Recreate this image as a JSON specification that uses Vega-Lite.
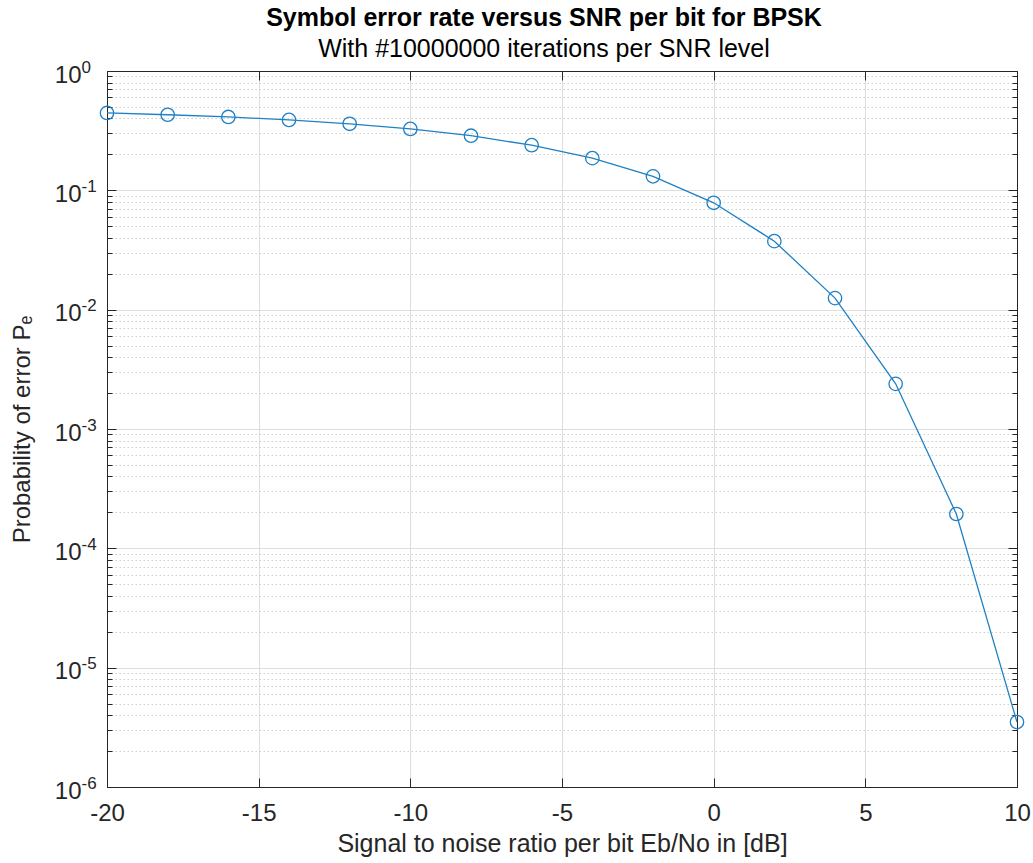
{
  "$schema": "https://vega.github.io/schema/vega-lite/v6.json",
  "autosize": "none",
  "width": 910,
  "height": 716,
  "padding": {"left": 107, "top": 71, "right": 16, "bottom": 76},
  "background": "white",
  "config": {
    "view": {"stroke": null},
    "font": "Liberation Sans",
    "axis": {"labelFont": "Liberation Sans", "titleFont": "Liberation Sans", "labelColor": "#262626", "titleColor": "#262626", "domainColor": "#262626", "tickColor": "#262626", "titleFontWeight": "normal"}
  },
  "title": {
    "text": "Symbol error rate versus SNR per bit for BPSK",
    "subtitle": "With #10000000 iterations per SNR level",
    "font": "Liberation Sans",
    "subtitleFont": "Liberation Sans",
    "fontSize": 25,
    "subtitleFontSize": 25,
    "fontWeight": "bold",
    "color": "#000000",
    "subtitleColor": "#000000",
    "anchor": "middle",
    "offset": -4,
    "subtitlePadding": 6,
    "dx": -18
  },
  "data": {
    "values": [
      {"snr": -20, "pe": 0.445},
      {"snr": -18, "pe": 0.430},
      {"snr": -16, "pe": 0.412},
      {"snr": -14, "pe": 0.389},
      {"snr": -12, "pe": 0.361},
      {"snr": -10, "pe": 0.327},
      {"snr": -8, "pe": 0.287},
      {"snr": -6, "pe": 0.239},
      {"snr": -4, "pe": 0.186},
      {"snr": -2, "pe": 0.131},
      {"snr": 0, "pe": 0.0786},
      {"snr": 2, "pe": 0.0375},
      {"snr": 4, "pe": 0.0125},
      {"snr": 6, "pe": 0.00239},
      {"snr": 8, "pe": 0.000194},
      {"snr": 10, "pe": 0.0000035}
    ]
  },
  "resolve": {"axis": {"x": "independent", "y": "independent"}},
  "layer": [
    {
      "mark": {"type": "line", "color": "#1f80c4", "strokeWidth": 1.3},
      "encoding": {
        "x": {
          "field": "snr", "type": "quantitative",
          "scale": {"domain": [-20, 10], "nice": false, "zero": false},
          "axis": {
            "orient": "bottom",
            "values": [-20, -15, -10, -5, 0, 5, 10],
            "labelExpr": "'' + datum.value",
            "labelFontSize": 24,
            "labelPadding": 23,
            "labelBaseline": "top",
            "labelFlush": false,
            "tickSize": -9,
            "grid": true,
            "gridColor": "#dedede",
            "gridWidth": 1,
            "title": "Signal to noise ratio per bit Eb/No in [dB]",
            "titleFontSize": 25,
            "titlePadding": 6
          }
        },
        "y": {
          "field": "pe", "type": "quantitative",
          "scale": {"type": "log", "domain": [0.000001, 1], "nice": false},
          "axis": {
            "orient": "left",
            "values": [0.000001, 0.000002, 0.000003, 0.000004, 0.000005, 0.000006, 0.000007, 0.000008, 0.000009,
                       0.00001, 0.00002, 0.00003, 0.00004, 0.00005, 0.00006, 0.00007, 0.00008, 0.00009,
                       0.0001, 0.0002, 0.0003, 0.0004, 0.0005, 0.0006, 0.0007, 0.0008, 0.0009,
                       0.001, 0.002, 0.003, 0.004, 0.005, 0.006, 0.007, 0.008, 0.009,
                       0.01, 0.02, 0.03, 0.04, 0.05, 0.06, 0.07, 0.08, 0.09,
                       0.1, 0.2, 0.3, 0.4, 0.5, 0.6, 0.7, 0.8, 0.9, 1],
            "labelExpr": "abs(log(datum.value)/LN10 - round(log(datum.value)/LN10)) < 0.001 ? '10' : ''",
            "labelFontSize": 24,
            "labelPadding": 35,
            "labelOffset": 4,
            "labelBaseline": "middle",
            "tickSize": {"condition": {"test": "abs(log(datum.value)/LN10 - round(log(datum.value)/LN10)) < 0.001", "value": -9}, "value": -5},
            "grid": true,
            "gridColor": {"condition": {"test": "abs(log(datum.value)/LN10 - round(log(datum.value)/LN10)) < 0.001", "value": "#dedede"}, "value": "#cfcfcf"},
            "gridDash": {"condition": {"test": "abs(log(datum.value)/LN10 - round(log(datum.value)/LN10)) < 0.001", "value": []}, "value": [1.5, 2.5]},
            "labelOverlap": false,
            "title": "Probability of error Pₑ",
            "titleFontSize": 24,
            "titlePadding": 20
          }
        }
      }
    },
    {
      "mark": {"type": "point", "shape": "circle", "filled": false, "color": "#1f80c4", "size": 180, "strokeWidth": 1.3, "opacity": 1},
      "encoding": {
        "x": {
          "field": "snr", "type": "quantitative",
          "axis": {"orient": "top", "values": [-20, -15, -10, -5, 0, 5, 10], "labels": false, "tickSize": -9, "grid": false, "title": null}
        },
        "y": {
          "field": "pe", "type": "quantitative",
          "axis": {
            "orient": "right",
            "values": [0.000001, 0.000002, 0.000003, 0.000004, 0.000005, 0.000006, 0.000007, 0.000008, 0.000009,
                       0.00001, 0.00002, 0.00003, 0.00004, 0.00005, 0.00006, 0.00007, 0.00008, 0.00009,
                       0.0001, 0.0002, 0.0003, 0.0004, 0.0005, 0.0006, 0.0007, 0.0008, 0.0009,
                       0.001, 0.002, 0.003, 0.004, 0.005, 0.006, 0.007, 0.008, 0.009,
                       0.01, 0.02, 0.03, 0.04, 0.05, 0.06, 0.07, 0.08, 0.09,
                       0.1, 0.2, 0.3, 0.4, 0.5, 0.6, 0.7, 0.8, 0.9, 1],
            "labels": false,
            "tickSize": {"condition": {"test": "abs(log(datum.value)/LN10 - round(log(datum.value)/LN10)) < 0.001", "value": -9}, "value": -5},
            "grid": false,
            "title": null
          }
        }
      }
    },
    {
      "mark": {"type": "line", "strokeOpacity": 0},
      "encoding": {
        "x": {"field": "snr", "type": "quantitative", "axis": null},
        "y": {
          "field": "pe", "type": "quantitative",
          "axis": {
            "orient": "left",
            "values": [0.000001, 0.00001, 0.0001, 0.001, 0.01, 0.1, 1],
            "labelExpr": "'' + round(log(datum.value)/LN10)",
            "labelFontSize": 17,
            "labelPadding": 26,
            "labelOffset": -4,
            "labelBaseline": "middle",
            "labelAlign": "left",
            "ticks": false,
            "domain": false,
            "grid": false,
            "labelOverlap": false,
            "title": null
          }
        }
      }
    }
  ]
}
